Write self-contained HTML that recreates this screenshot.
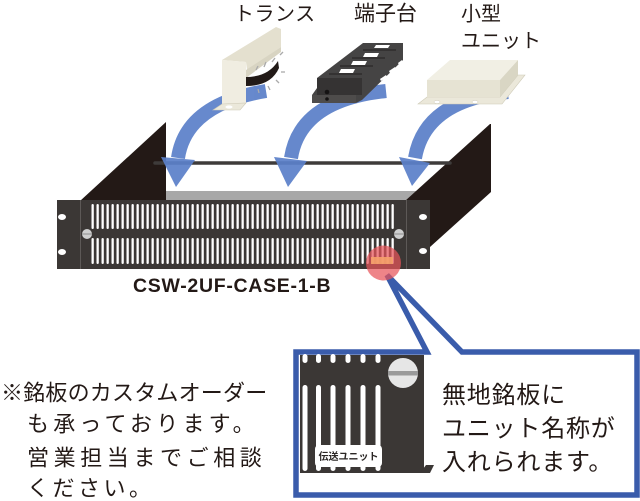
<!DOCTYPE html>
<html><head><meta charset="utf-8">
<style>
html,body{margin:0;padding:0;background:#fff;}
svg{display:block;}
.jp{font-family:"Liberation Sans","Noto Sans CJK JP",sans-serif;}
</style></head>
<body>
<svg width="640" height="501" viewBox="0 0 640 501" xmlns="http://www.w3.org/2000/svg">
<defs>
<pattern id="sl1" patternUnits="userSpaceOnUse" x="91.5" y="204" width="5" height="25"><rect x="0" y="0" width="2.3" height="25" rx="1.1" fill="#fff"/></pattern>
<pattern id="sl2" patternUnits="userSpaceOnUse" x="91.5" y="238" width="5" height="26"><rect x="0" y="0" width="2.3" height="26" rx="1.1" fill="#fff"/></pattern>
</defs>
<rect width="640" height="501" fill="#fff"/>

<!-- floor / walls -->
<rect x="160" y="191" width="262" height="10" fill="#a8a8a8"/>
<polygon points="80,201 166,122 166,201" fill="#231916"/>
<polygon points="405,201 490,124 491,124 491,192 430,247 430,201" fill="#231916"/>

<!-- rod -->
<line x1="155" y1="163" x2="450" y2="163" stroke="#3e3b3a" stroke-width="3.5" stroke-linecap="round"/>

<!-- blue arrows -->
<g fill="none" stroke="#5b80c9" stroke-width="14" opacity="0.93">
<path d="M266,91 Q186,104 178,158"/>
<path d="M386,91 Q300,100 291,158"/>
<path d="M508,92 Q425,100 415,158"/>
</g>
<g fill="#5b80c9" opacity="0.93">
<polygon points="161,157 195,160 176,187"/>
<polygon points="274,157 307,161 288,187"/>
<polygon points="399,157 430,163 412,186"/>
</g>

<!-- transformer -->
<polygon points="222,60 276,27 281,29 281,47 247,70 246,62" fill="#e4e0cf"/>
<polygon points="222,60 246,62 246,104 222,108" fill="#f0ede1"/>
<polygon points="246,70 281,47 281,52 246,78" fill="#d8d4c2"/>
<path d="M246,77 Q268,77 278,61 L279,68 Q271,86 246,86 Z" fill="#221a17"/>
<g stroke="#aaa" stroke-width="1.3">
<line x1="256" y1="70" x2="258" y2="66"/><line x1="264" y1="67" x2="266" y2="62"/><line x1="272" y1="62" x2="275" y2="58"/>
<line x1="280" y1="55" x2="283" y2="52"/><line x1="281" y1="72" x2="285" y2="72"/><line x1="276" y1="80" x2="279" y2="83"/>
<line x1="268" y1="86" x2="270" y2="90"/><line x1="258" y1="89" x2="259" y2="93"/>
</g>
<polygon points="213,110 222,104 246,103 240,110" fill="#ebe8da" stroke="#cfcbb8" stroke-width="0.6"/>
<ellipse cx="229" cy="107" rx="3.5" ry="1.6" fill="#fff"/>

<!-- terminal block -->
<polygon points="312,103 312,95 317,88 317,78 363,43 403,43 403,60 362,100 356,103" fill="#454444"/>
<rect x="317" y="78" width="45" height="17" fill="#353333"/>
<rect x="312" y="95" width="44" height="8" fill="#4e4c4b"/>
<g fill="#fff">
<polygon points="376,45 390,45 388,48 374,48"/>
<polygon points="365,53 379,53 377,57 363,57"/>
<polygon points="353,61 367,61 365,65 351,65"/>
<polygon points="341,69 355,69 353,73 339,73"/>
<polygon points="380,79 386,75 387,77 381,81"/>
<polygon points="389,71 395,67 396,69 390,73"/>
<polygon points="398,63 402,60 402,62 399,65"/>
</g>
<g stroke="#2a2828" stroke-width="1.2">
<line x1="363" y1="50" x2="396" y2="50"/><line x1="352" y1="58" x2="385" y2="58"/><line x1="340" y1="66" x2="373" y2="66"/><line x1="329" y1="74" x2="362" y2="74"/>
</g>
<circle cx="327" cy="92" r="2.3" fill="#151313"/>
<circle cx="327" cy="99" r="1.8" fill="#151313"/>

<!-- small unit -->
<polygon points="418,104 427,97 500,97 518,75 525,75 502,104" fill="#ebe8da" stroke="#cdc9b6" stroke-width="0.6"/>
<polygon points="427,80 450,60 518,60 500,80" fill="#f1efe4"/>
<rect x="427" y="80" width="73" height="17" fill="#e6e3d3"/>
<polygon points="500,80 518,60 518,75 500,97" fill="#d9d6c4"/>
<ellipse cx="437" cy="102" rx="3" ry="1.6" fill="#fff" stroke="#cfcbb8" stroke-width="0.5"/>
<ellipse cx="475" cy="102" rx="3" ry="1.6" fill="#fff" stroke="#cfcbb8" stroke-width="0.5"/>

<!-- front panel -->
<rect x="57" y="200" width="373" height="69" fill="#3b3735"/>
<line x1="80.5" y1="200" x2="80.5" y2="269" stroke="#5d5957" stroke-width="1"/>
<line x1="406.5" y1="200" x2="406.5" y2="269" stroke="#5d5957" stroke-width="1"/>
<rect x="91.5" y="204" width="302.5" height="25" fill="url(#sl1)"/>
<rect x="91.5" y="238" width="302.5" height="26" fill="url(#sl2)"/>
<g fill="#fff">
<ellipse cx="62" cy="217" rx="4" ry="3"/><ellipse cx="62" cy="252" rx="4" ry="3"/>
<ellipse cx="423" cy="217" rx="4" ry="3"/><ellipse cx="423" cy="251" rx="4" ry="3"/>
</g>
<circle cx="87" cy="234" r="5" fill="#cfcfcf"/><line x1="82" y1="234" x2="92" y2="234" stroke="#999" stroke-width="1.2"/>
<circle cx="399" cy="234" r="5" fill="#cfcfcf"/><line x1="394" y1="234" x2="404" y2="234" stroke="#999" stroke-width="1.2"/>

<text x="133" y="292" font-family="Liberation Sans, sans-serif" font-weight="bold" font-size="19.5" letter-spacing="0.7" fill="#231916">CSW-2UF-CASE-1-B</text>

<!-- callout -->
<path d="M462,352 L637,352 L637,495 L296,495 L296,352 L427,352 L387,275 Z" fill="none" stroke="#3a5cab" stroke-width="5.5" stroke-linejoin="miter"/>

<!-- red highlight -->
<circle cx="383.5" cy="263" r="17.5" fill="#e8555a" opacity="0.72"/>
<rect x="371" y="257" width="22" height="7" fill="#f5a06a" opacity="0.9"/>

<!-- box panel image -->
<rect x="300" y="355" width="124" height="118" fill="#3b3735"/>
<polygon points="420,473 426,465 434,465 430,473" fill="#3b3735"/>
<g fill="#fff">
<rect x="302.5" y="354" width="5" height="9" rx="2.5"/>
<rect x="316" y="354" width="5" height="9" rx="2.5"/>
<rect x="330.5" y="354" width="5" height="9" rx="2.5"/>
<rect x="345.5" y="354" width="5" height="9" rx="2.5"/>
<rect x="360.5" y="354" width="5" height="9" rx="2.5"/>
<rect x="375.5" y="354" width="5" height="9" rx="2.5"/>
<rect x="302.5" y="385" width="5" height="86" rx="2.5"/>
<rect x="316" y="385" width="5" height="86" rx="2.5"/>
<rect x="330.5" y="385" width="5" height="86" rx="2.5"/>
<rect x="345.5" y="385" width="5" height="86" rx="2.5"/>
<rect x="360.5" y="385" width="5" height="86" rx="2.5"/>
<rect x="375.5" y="385" width="5" height="86" rx="2.5"/>
</g>
<circle cx="403" cy="373" r="15" fill="#e6e6e6"/>
<rect x="388" y="371" width="30" height="4.5" fill="#9a9a9a"/>
<rect x="315" y="445" width="67" height="22" rx="4" fill="#fff"/>
<text x="348.5" y="460" text-anchor="middle" class="jp" font-size="10" font-weight="bold" fill="#2a2624">伝送ユニット</text>

<!-- box text -->
<g class="jp" font-size="24" fill="#231916" letter-spacing="0.8">
<text x="442" y="403">無地銘板に</text>
<text x="442" y="436.5">ユニット名称が</text>
<text x="442" y="470">入れられます。</text>
</g>

<!-- left note -->
<g class="jp" font-size="22" fill="#231916">
<text x="1" y="400.5" letter-spacing="0.2">※銘板のカスタムオーダー</text>
<text x="27" y="431.5" letter-spacing="4.2">も承っております。</text>
<text x="27" y="465.5" letter-spacing="4.6">営業担当までご相談</text>
<text x="27" y="496" letter-spacing="3.5">ください。</text>
</g>

<!-- top labels -->
<g class="jp" font-size="20" fill="#231916">
<text x="234" y="20.5" letter-spacing="0.5">トランス</text>
<text x="354" y="20.5" font-size="21">端子台</text>
<text x="461" y="20.5">小型</text>
<text x="461" y="47.5">ユニット</text>
</g>
</svg>
</body></html>
